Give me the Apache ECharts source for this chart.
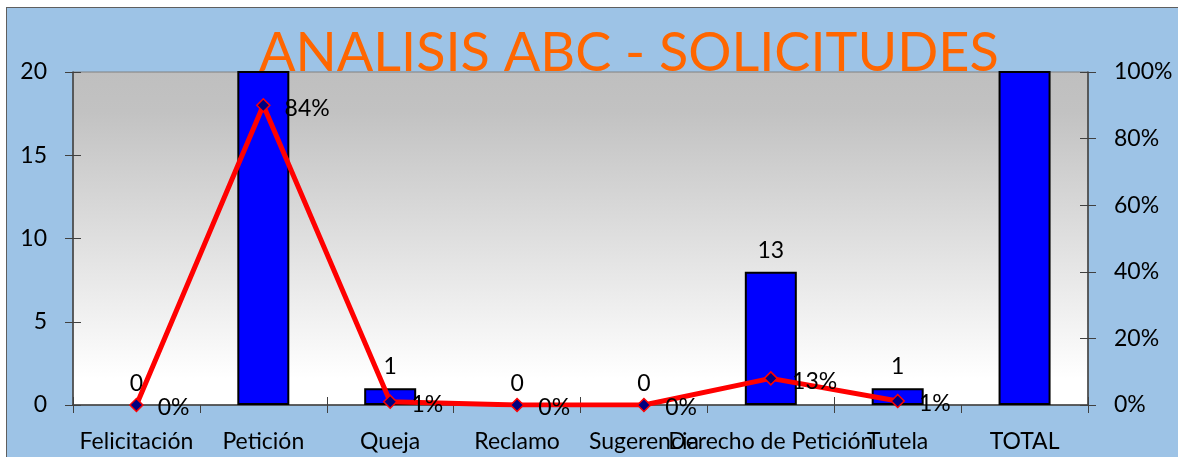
<!DOCTYPE html>
<html>
<head>
<meta charset="utf-8">
<script src="https://cdn.jsdelivr.net/npm/echarts@6/dist/echarts.min.js"></script>
<style>
    html, body { margin: 0; padding: 0; background: #ffffff; overflow: hidden; }
    #bg {
        position: absolute; left: 6px; top: 7px; width: 1180px; height: 460px;
        background: #9dc3e6; border: 1.5px solid #5f5f5f;
    }
    #chart { position: absolute; left: 0; top: 0; width: 1178px; height: 457px; }
</style>
</head>
<body>
<div id="bg"></div>
<div id="chart"></div>
<script>
const categories = ['Felicitación', 'Petición', 'Queja', 'Reclamo', 'Sugerencia', 'Derecho de Petición', 'Tutela', 'TOTAL'];
// bar heights as drawn (Petición and TOTAL run past the top of the axis)
const barValues = [0, 84, 1, 0, 0, 8, 1, 99];
const barLabels = ['0', '', '1', '0', '0', '13', '1', ''];
// cumulative line, as drawn on the right axis (%)
const pctValues = [0, 90, 1, 0, 0, 8, 1.2];
const pctLabels = ['0%', '84%', '1%', '0%', '0%', '13%', '1%'];
const leftTicks = [0, 5, 10, 15, 20];
const rightTicks = [0, 20, 40, 60, 80, 100];

const FONT = 'Lato, "Open Sans", sans-serif';
const FS = 23;
const chart = echarts.init(document.getElementById('chart'));

// zero bars get no outline, like the original
const barData = barValues.map(v => v === 0 ? { value: v, itemStyle: { borderWidth: 0 } } : v);

chart.setOption({
    backgroundColor: 'transparent',
    animation: false,
    textStyle: { fontFamily: FONT },
    title: {
        text: 'ANALISIS ABC - SOLICITUDES',
        left: 254, top: 22,
        textStyle: { color: '#ff6600', fontSize: 54, fontWeight: 'normal', fontFamily: FONT }
    },
    grid: {
        left: 73, right: 90, top: 72, bottom: 52,
        show: true,
        borderColor: '#808080', borderWidth: 1,
        backgroundColor: {
            type: 'linear', x: 0, y: 0, x2: 0, y2: 1,
            colorStops: [
                { offset: 0, color: '#bfbfbf' },
                { offset: 0.12, color: '#c2c2c2' },
                { offset: 0.92, color: '#ffffff' },
                { offset: 1, color: '#ffffff' }
            ]
        }
    },
    xAxis: [{
        type: 'category',
        data: categories,
        axisLine: { lineStyle: { color: '#404040', width: 1.5 } },
        axisTick: { show: true, length: 8, lineStyle: { color: '#404040' } },
        axisLabel: { interval: 0, hideOverlap: false, color: '#000', fontSize: FS, margin: 25, fontFamily: FONT }
    }, {
        type: 'category',
        data: categories,
        position: 'bottom',
        axisLine: { show: false },
        axisTick: { show: true, inside: true, length: 8, lineStyle: { color: '#404040' } },
        axisLabel: { show: false }
    }],
    yAxis: [{
        type: 'value', min: 0, max: leftTicks[leftTicks.length - 1], interval: 5,
        axisLine: { show: true, lineStyle: { color: '#404040', width: 1.5 } },
        axisTick: { show: true, length: 8, lineStyle: { color: '#404040' } },
        axisLabel: { color: '#000', fontSize: FS, margin: 26, fontFamily: FONT },
        splitLine: { show: false }
    }, {
        type: 'value', min: 0, max: rightTicks[rightTicks.length - 1], interval: 20,
        position: 'right',
        axisLine: { show: true, lineStyle: { color: '#404040', width: 1.5 } },
        axisTick: { show: true, length: 8, lineStyle: { color: '#404040' } },
        axisLabel: { color: '#000', fontSize: FS, margin: 26, formatter: '{value}%', fontFamily: FONT },
        splitLine: { show: false }
    }, {
        type: 'value', min: 0, max: 20, interval: 5, position: 'left',
        axisLine: { show: false },
        axisTick: { show: true, inside: true, length: 8, lineStyle: { color: '#404040' } },
        axisLabel: { show: false }, splitLine: { show: false }
    }, {
        type: 'value', min: 0, max: 100, interval: 20, position: 'right',
        axisLine: { show: false },
        axisTick: { show: true, inside: true, length: 8, lineStyle: { color: '#404040' } },
        axisLabel: { show: false }, splitLine: { show: false }
    }],
    series: [{
        type: 'bar',
        data: barData,
        barWidth: 52,
        clip: true,
        itemStyle: { color: '#0000ff', borderColor: '#000000', borderWidth: 2 },
        label: {
            show: true, position: 'top', distance: 10,
            color: '#000', fontSize: FS, fontFamily: FONT,
            formatter: p => barLabels[p.dataIndex]
        }
    }, {
        type: 'line',
        yAxisIndex: 1,
        data: pctValues,
        symbol: 'diamond',
        symbolSize: 13,
        lineStyle: { color: '#ff0000', width: 5 },
        itemStyle: { color: '#000080', borderColor: '#ff0000', borderWidth: 1.5 },
        label: {
            show: true, position: 'right', distance: 4, offset: [10, 3],
            color: '#000', fontSize: FS, fontFamily: FONT,
            formatter: p => pctLabels[p.dataIndex]
        },
        z: 5
    }]
});
</script>
</body>
</html>
